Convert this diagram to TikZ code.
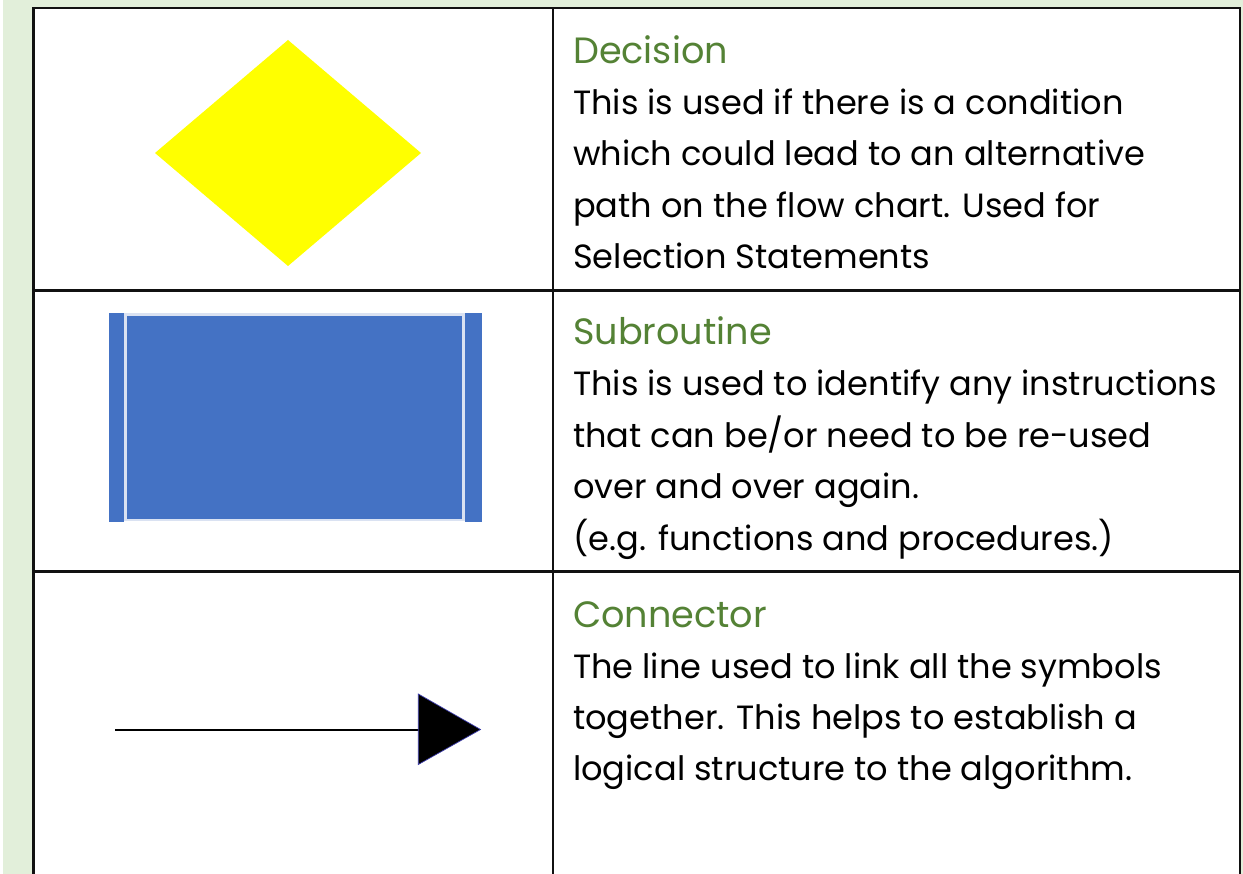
\documentclass[tikz,border=0pt]{standalone}
\usepackage{fontspec}
\setmainfont{Poppins}
\definecolor{pagegreen}{RGB}{226,239,218}
\definecolor{headgreen}{RGB}{84,130,53}
\definecolor{shapeblue}{RGB}{68,114,196}
\definecolor{edgeblue}{RGB}{218,226,242}
\definecolor{rule}{RGB}{17,17,17}
\definecolor{tipedge}{RGB}{60,60,170}
\definecolor{decisionyellow}{RGB}{255,255,0}

\tikzset{
  heading/.style={anchor=base west, inner sep=0pt, text=headgreen, font=\fontsize{36.6}{44}\selectfont},
  body/.style={anchor=base west, inner sep=0pt, text=black, font=\fontsize{33.6}{40}\selectfont},
  tablerule/.style={draw=rule, line width=2.6pt},
  innerrule/.style={draw=rule, line width=2.4pt},
}

\begin{document}
\begin{tikzpicture}[x=1pt,y=-1pt]
\useasboundingbox (0,0) rectangle (1243,874);
% page background and table cells
\fill[pagegreen] (3,0) rectangle (1243,874);
\fill[white] (34,8) rectangle (1240,874);

% table frame
\draw[tablerule] (33.7,874) -- (33.7,8) -- (1240,8) -- (1240,874);
\draw[innerrule] (553,8) -- (553,874);
\draw[innerrule] (33.7,290.5) -- (1240,290.5);
\draw[innerrule] (33.7,571.5) -- (1240,571.5);

% decision symbol
\fill[decisionyellow] (288,40) -- (421,153) -- (288,266) -- (155,153) -- cycle;

% subroutine symbol
\fill[shapeblue] (109,313) rectangle (124,522);
\fill[shapeblue] (464.5,313) rectangle (481.5,522);
\filldraw[fill=shapeblue, draw=edgeblue, line width=2.6pt] (125.3,314.6) rectangle (463.3,520);

% connector symbol
\coordinate (linestart) at (115,730);
\coordinate (lineend) at (419,730);
\draw[black, line width=2.6pt] (linestart) -- (lineend);
\filldraw[fill=black, draw=tipedge, line width=0.7pt] (418.3,694) -- (480.5,729.5) -- (418.3,764.5) -- cycle;

% descriptions
\node[heading] (t1) at (573,64) {Decision};
\node[body] (d1a) at (573,115) {This is used if there is a condition};
\node[body] (d1b) at (573,166) {which could lead to an alternative};
\node[body] (d1c) at (573,218) {path on the flow chart. Used for};
\node[body] (d1d) at (573,269) {Selection Statements};

\node[heading] (t2) at (573,345) {Subroutine};
\node[body] (d2a) at (573,396) {This is used to identify any instructions};
\node[body] (d2b) at (573,448) {that can be/or need to be re-used};
\node[body] (d2c) at (573,499) {over and over again.};
\node[body] (d2d) at (573,550) {(e.g. functions and procedures.)};

\node[heading] (t3) at (573,627) {Connector};
\node[body] (d3a) at (573,678) {The line used to link all the symbols};
\node[body] (d3b) at (573,729) {together. This helps to establish a};
\node[body] (d3c) at (573,780) {logical structure to the algorithm.};
\end{tikzpicture}
\end{document}
